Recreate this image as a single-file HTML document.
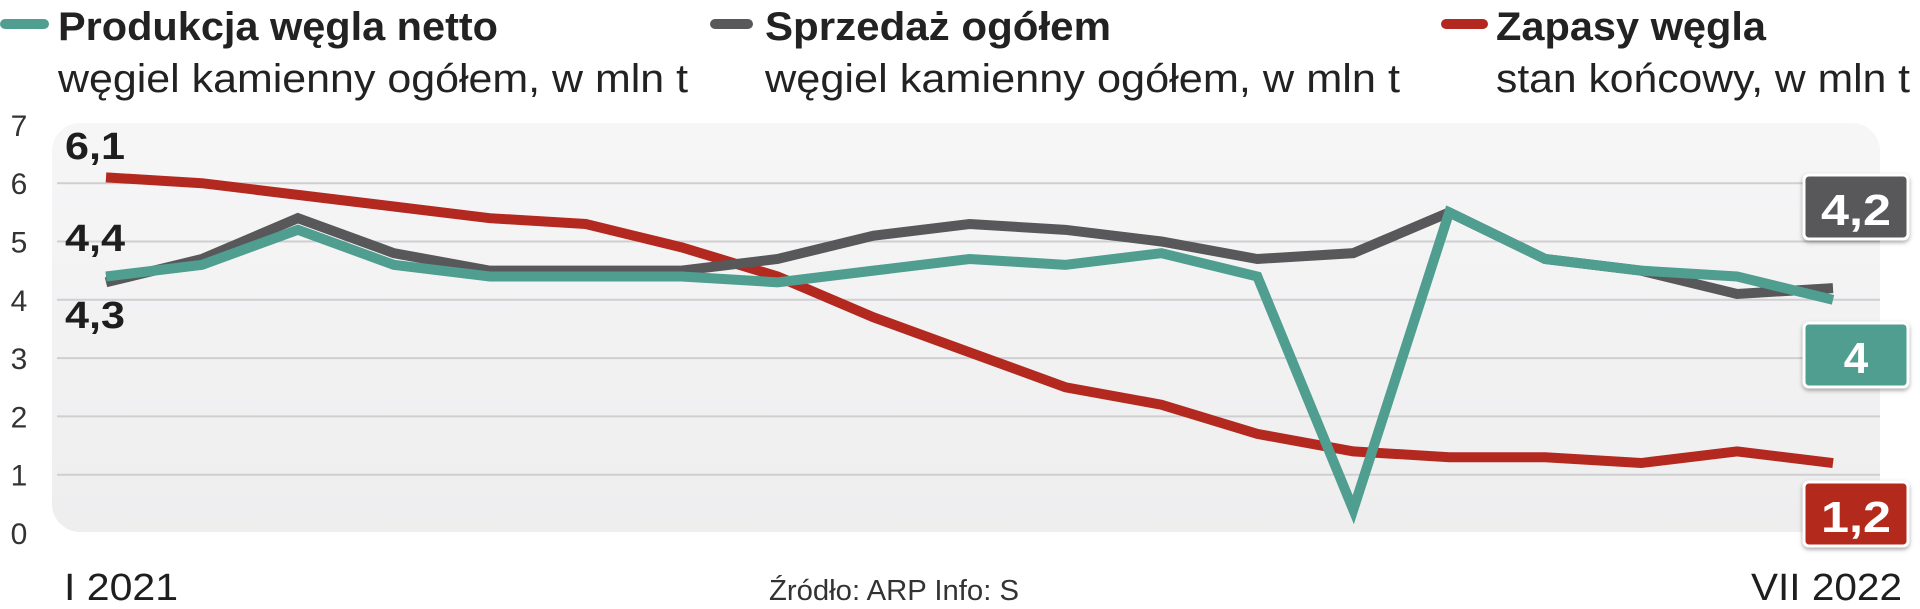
<!DOCTYPE html>
<html><head><meta charset="utf-8"><style>
html,body{margin:0;padding:0;background:#fff;}
svg{display:block;font-family:"Liberation Sans",sans-serif;}
</style></head><body>
<svg id="chart" width="1920" height="609" viewBox="0 0 1920 609">
<defs>
<linearGradient id="bg" x1="0" y1="0" x2="0" y2="1"><stop offset="0" stop-color="#f6f6f7"/><stop offset="1" stop-color="#eeeeef"/></linearGradient>
<filter id="sh" x="-20%" y="-20%" width="140%" height="140%"><feDropShadow dx="0" dy="2" stdDeviation="2" flood-color="#000" flood-opacity="0.35"/></filter>
</defs>
<g>
<rect x="0" y="19" width="49" height="10" rx="5" fill="#4f9e90"/>
<text x="58" y="40" font-size="40" font-weight="bold" fill="#222" textLength="440" lengthAdjust="spacingAndGlyphs">Produkcja węgla netto</text>
<text x="58" y="92" font-size="40" fill="#222" textLength="630" lengthAdjust="spacingAndGlyphs">węgiel kamienny ogółem, w mln t</text>
<rect x="710" y="19" width="43" height="10" rx="5" fill="#58585a"/>
<text x="765" y="40" font-size="40" font-weight="bold" fill="#222" textLength="346" lengthAdjust="spacingAndGlyphs">Sprzedaż ogółem</text>
<text x="765" y="92" font-size="40" fill="#222" textLength="635" lengthAdjust="spacingAndGlyphs">węgiel kamienny ogółem, w mln t</text>
<rect x="1441" y="19" width="47" height="10" rx="5" fill="#b3291f"/>
<text x="1496" y="40" font-size="40" font-weight="bold" fill="#222" textLength="270" lengthAdjust="spacingAndGlyphs">Zapasy węgla</text>
<text x="1496" y="92" font-size="40" fill="#222" textLength="414" lengthAdjust="spacingAndGlyphs">stan końcowy, w mln t</text>
</g>
<rect x="52" y="123" width="1828" height="409" rx="28" fill="url(#bg)"/>
<g id="grid"></g><g id="ylab"></g><g id="lines"></g>
<g>
<text x="65" y="159" font-size="38" font-weight="bold" fill="#1e1e1e" textLength="60" lengthAdjust="spacingAndGlyphs">6,1</text>
<text x="65" y="251" font-size="38" font-weight="bold" fill="#1e1e1e" textLength="60" lengthAdjust="spacingAndGlyphs">4,4</text>
<text x="65" y="328" font-size="38" font-weight="bold" fill="#1e1e1e" textLength="60" lengthAdjust="spacingAndGlyphs">4,3</text>
</g>
<g>
<rect x="1804" y="175" width="104" height="64" rx="5" fill="#58585a" stroke="#fff" stroke-width="3" filter="url(#sh)"/>
<text x="1856" y="225" font-size="44" font-weight="bold" fill="#fff" text-anchor="middle" textLength="70" lengthAdjust="spacingAndGlyphs">4,2</text>
<rect x="1804" y="323" width="104" height="64" rx="5" fill="#4f9e90" stroke="#fff" stroke-width="3" filter="url(#sh)"/>
<text x="1856" y="373" font-size="44" font-weight="bold" fill="#fff" text-anchor="middle">4</text>
<rect x="1804" y="482" width="104" height="64" rx="5" fill="#b3291f" stroke="#fff" stroke-width="3" filter="url(#sh)"/>
<text x="1856" y="532" font-size="44" font-weight="bold" fill="#fff" text-anchor="middle" textLength="70" lengthAdjust="spacingAndGlyphs">1,2</text>
</g>
<text x="64" y="600" font-size="38" fill="#1e1e1e" textLength="114" lengthAdjust="spacingAndGlyphs">I 2021</text>
<text x="1902" y="600" font-size="38" fill="#1e1e1e" text-anchor="end" textLength="151" lengthAdjust="spacingAndGlyphs">VII 2022</text>
<text x="769" y="600" font-size="29" fill="#333" textLength="250" lengthAdjust="spacingAndGlyphs">Źródło: ARP   Info: S</text>
</svg>
<script>
const months = ["I21","II21","III21","IV21","V21","VI21","VII21","VIII21","IX21","X21","XI21","XII21","I22","II22","III22","IV22","V22","VI22","VII22"];
const production = [4.4,4.6,5.2,4.6,4.4,4.4,4.4,4.3,4.5,4.7,4.6,4.8,4.4,0.4,5.5,4.7,4.5,4.4,4.0];
const sales = [4.3,4.7,5.4,4.8,4.5,4.5,4.5,4.7,5.1,5.3,5.2,5.0,4.7,4.8,5.5,4.7,4.5,4.1,4.2];
const stocks = [6.1,6.0,5.8,5.6,5.4,5.3,4.9,4.4,3.7,3.1,2.5,2.2,1.7,1.4,1.3,1.3,1.2,1.4,1.2];
const yTicks = ["0","1","2","3","4","5","6","7"];
const NS="http://www.w3.org/2000/svg";
function x(i){return 106+i*(1833-106)/(months.length-1);}
function y(v){return 533-v*58.3;}
const grid=document.getElementById('grid'), ylab=document.getElementById('ylab'), lines=document.getElementById('lines');
yTicks.forEach(t=>{
  const v=+t;
  if(v>0&&v<7){
    const l=document.createElementNS(NS,'line');
    l.setAttribute('x1',57);l.setAttribute('x2',1880);l.setAttribute('y1',y(v));l.setAttribute('y2',y(v));
    l.setAttribute('stroke','#cfcfd1');l.setAttribute('stroke-width','2');
    
    
    grid.appendChild(l);
  }
  const tx=document.createElementNS(NS,'text');
  tx.setAttribute('x',19);tx.setAttribute('y',y(v)+11);tx.setAttribute('font-size','30');
  tx.setAttribute('fill','#333');tx.setAttribute('text-anchor','middle');
  tx.textContent=t;
  
  
  ylab.appendChild(tx);
});
function draw(arr,color,name){
  const p=document.createElementNS(NS,'polyline');
  p.setAttribute('points',arr.map((v,i)=>x(i)+','+y(v)).join(' '));
  p.setAttribute('fill','none');p.setAttribute('stroke',color);p.setAttribute('stroke-width','10');
  p.setAttribute('stroke-linejoin','miter');p.setAttribute('stroke-miterlimit','4');
  
  
  lines.appendChild(p);
}
draw(stocks,'#b3291f','line-stocks');
draw(sales,'#58585a','line-sales');
draw(production,'#4f9e90','line-production');
</script>
</body></html>
